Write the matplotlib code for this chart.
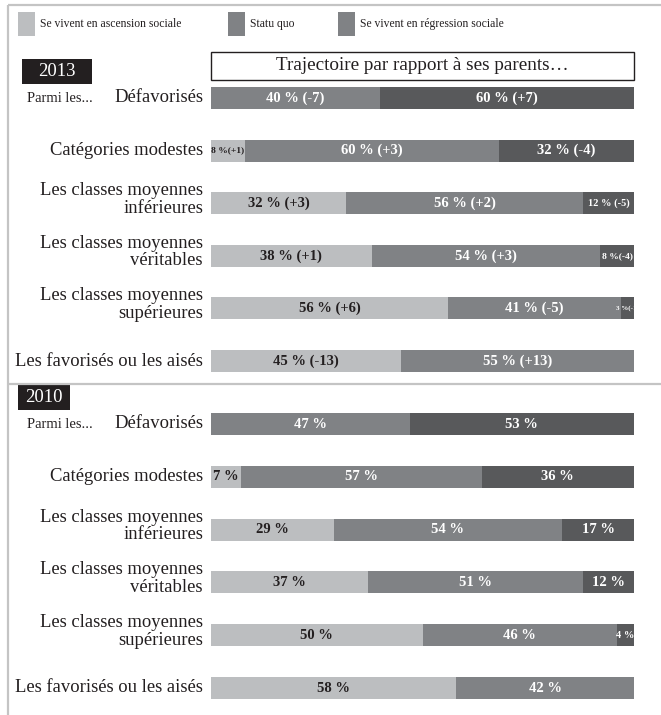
import matplotlib
matplotlib.use("Agg")
import matplotlib.pyplot as plt
from matplotlib.patches import Rectangle
import numpy as np

# ---------------- data ----------------
categories = ["Défavorisés", "Catégories modestes",
              "Les classes moyennes\ninférieures",
              "Les classes moyennes\nvéritables",
              "Les classes moyennes\nsupérieures",
              "Les favorisés ou les aisés"]
series = ["Se vivent en ascension sociale", "Statu quo",
          "Se vivent en régression sociale"]
years = ["2013", "2010"]

asc_2013 = [0, 8, 32, 38, 56, 45]
sq_2013 = [40, 60, 56, 54, 41, 55]
reg_2013 = [60, 32, 12, 8, 3, 0]

asc_2010 = [0, 7, 29, 37, 50, 58]
sq_2010 = [47, 57, 54, 51, 46, 42]
reg_2010 = [53, 36, 17, 12, 4, 0]

title_text = "Trajectoire par rapport à ses parents…"
parmi_text = "Parmi les..."

# ---------------- style ----------------
W, H = 661, 715
FONT = ["Liberation Serif", "DejaVu Serif"]
seg_colors = ["#bcbec0", "#808285", "#58595b"]
legend_colors = ["#bcbec0", "#808285", "#808285"]
text_colors = ["#231f20", "white", "white"]
frame_col = "#c4c4c4"

plt.rcParams["font.family"] = FONT

fig = plt.figure(figsize=(W / 100, H / 100), dpi=100)
bg = fig.add_axes([0, 0, 1, 1])
bg.set_xlim(0, W)
bg.set_ylim(H, 0)
bg.axis("off")

# frame lines
bg.plot([8, 8], [5, H], color=frame_col, lw=1.6, solid_capstyle="butt")
bg.plot([8, W], [5, 5], color=frame_col, lw=1.6, solid_capstyle="butt")
bg.plot([8, W], [384, 384], color=frame_col, lw=1.6, solid_capstyle="butt")

# legend
leg_x = [18, 228, 338]
for lx, col, lab in zip(leg_x, legend_colors, series):
    bg.add_patch(Rectangle((lx, 12), 17, 24, fc=col, ec="none"))
    bg.text(lx + 22, 24, lab, fontsize=8.4, va="center", ha="left", color="#231f20")

# title box
bg.add_patch(Rectangle((211, 52), 423, 28, fc="white", ec="#231f20", lw=1))
bg.text(422.5, 66, title_text, fontsize=13.8, ha="center", va="center", color="#231f20")

# year boxes
bg.add_patch(Rectangle((22, 59), 70, 25, fc="#231f20", ec="none"))
bg.text(57, 71.5, years[0], fontsize=13.5, ha="center", va="center", color="white")
bg.add_patch(Rectangle((18, 385), 52, 25, fc="#231f20", ec="none"))
bg.text(44, 397.5, years[1], fontsize=13.5, ha="center", va="center", color="white")

# "Parmi les..."
bg.text(27, 98, parmi_text, fontsize=10.5, ha="left", va="center", color="#231f20")
bg.text(27, 424, parmi_text, fontsize=10.5, ha="left", va="center", color="#231f20")


def panel(top_px, bottom_px, data, prev=None):
    ax = fig.add_axes([211 / W, 1 - bottom_px / H, 423 / W, (bottom_px - top_px) / H])
    ax.set_xlim(0, 100)
    ax.set_ylim(len(categories) - 0.5, -0.5)
    ax.axis("off")
    ax.patch.set_alpha(0)
    y = np.arange(len(categories))
    left = np.zeros(len(categories))
    for s, vals in enumerate(data):
        vals = np.array(vals, dtype=float)
        ax.barh(y, vals, left=left, height=0.42, color=seg_colors[s], edgecolor="none")
        for i, v in enumerate(vals):
            if v <= 0:
                continue
            if prev is not None:
                d = int(v - prev[s][i])
                sign = "+" if d > 0 else ""
                sep = " " if v >= 10 else ""
                lab = f"{int(v)} %{sep}({sign}{d})"
            else:
                lab = f"{int(v)} %"
            if v >= 20:
                fs = 10.5
            elif v >= 10:
                fs = 7.5
            elif v >= 5:
                fs = 6.8
            else:
                fs = 5
            if prev is None and v < 20:
                fs = 10.5 if v >= 7 else 7.5
            ax.text(left[i] + v / 2, i, lab, ha="center", va="center",
                    fontsize=fs, fontweight="bold", color=text_colors[s])
        left += vals
    for i, c in enumerate(categories):
        off = -0.07 if "\n" in c else 0.0
        ax.text(-1.9, i + off, c, ha="right", va="center", fontsize=13.4,
                color="#231f20", linespacing=1.05)
    return ax


data_2013 = [asc_2013, sq_2013, reg_2013]
data_2010 = [asc_2010, sq_2010, reg_2010]
panel(71.7, 387.3, data_2013, prev=data_2010)
panel(397.6, 714.4, data_2010)

fig.savefig("out.png", dpi=100)
